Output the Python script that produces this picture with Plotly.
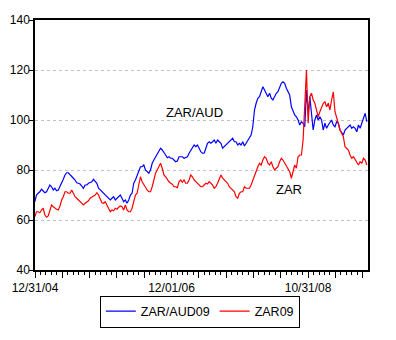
import pandas as pd
import plotly.graph_objects as go

zar_aud09 = [
    67.3, 70.0, 70.7, 71.3, 72.3, 71.7, 70.9, 71.3, 72.7, 74.0, 73.3, 72.0, 72.7,
    71.7, 72.0, 73.3, 74.7, 76.3, 78.0, 78.9, 78.9, 78.0, 77.3, 76.7, 76.0, 74.9,
    74.7, 74.4, 73.6, 72.7, 74.0, 74.0, 74.7, 74.9, 75.3, 76.3, 75.3, 74.7, 72.7,
    72.0, 71.3, 70.9, 70.0, 69.3, 68.7, 68.0, 68.7, 69.3, 68.0, 68.7, 69.3, 70.0,
    68.7, 67.3, 68.0, 66.7, 68.0, 70.0, 70.7, 74.7, 76.0, 78.0, 79.3, 81.3, 81.3,
    82.0, 80.0, 79.3, 78.7, 80.0, 82.7, 84.0, 85.3, 86.0, 87.3, 88.7, 88.0, 86.7,
    86.0, 84.9, 85.3, 84.7, 84.7, 84.0, 83.3, 83.6, 85.3, 85.3, 85.3, 84.7, 84.9,
    85.3, 86.7, 88.0, 88.7, 90.0, 89.3, 90.0, 88.7, 87.3, 86.7, 86.7,
    88.7, 90.7, 91.3, 90.7, 91.3, 92.0, 90.7, 92.0, 91.3, 90.7, 88.7, 89.3, 90.0,
    90.7, 91.3, 92.0, 92.7, 91.3, 91.3, 90.0, 90.7, 90.0, 91.3, 89.6, 90.7, 92.0,
    92.7, 94.0, 97.3, 104.0, 106.7, 108.7, 109.3, 111.3, 113.3, 112.0, 110.7, 109.3,
    110.7, 108.7, 108.0, 109.3, 110.7, 111.3, 112.7, 114.7, 115.3, 114.7, 112.7, 111.3,
    110.0, 105.3, 103.3, 102.0, 101.3, 100.0, 98.0, 99.3, 98.7, 97.3, 112.0, 102.7,
    109.3, 101.3, 96.0, 100.0, 102.0, 100.0, 101.3, 100.0, 96.0, 98.7, 96.7, 98.0,
    99.3, 100.0, 98.0, 97.3, 99.3, 98.7, 96.0, 94.7, 94.0, 96.0, 96.7, 97.3, 98.0,
    96.7, 97.3, 96.7, 95.3, 98.0, 96.7, 98.7, 100.7, 102.7, 99.3,
]

# ZAR09 index, same sampling
zar09 = [
    61.3, 63.3, 63.3, 62.9, 64.0, 64.7, 62.0, 61.1, 61.6, 64.0, 66.0, 65.3, 64.7,
    64.3, 64.0, 65.6, 68.0, 69.3, 71.3, 71.3, 70.7, 70.7, 72.0, 70.7, 69.3, 68.7,
    68.0, 67.7, 66.9, 66.0, 66.7, 67.3, 67.7, 68.7, 69.3, 69.6, 70.0, 70.9, 70.0,
    68.0, 66.9, 66.7, 67.3, 66.0, 64.7, 63.3, 64.0, 63.7, 64.7, 64.3, 65.1, 65.6,
    65.3, 64.0, 66.0, 64.0, 63.3, 63.3, 64.7, 67.3, 70.0, 70.7, 74.0, 77.3, 75.3,
    74.0, 72.7, 72.0, 71.3, 71.3, 73.3, 76.0, 78.7, 80.0, 81.3, 82.7, 80.7, 78.0,
    77.3, 76.0, 75.3, 74.7, 74.3, 73.3, 73.3, 72.9, 75.3, 76.0, 75.1, 76.0, 74.7,
    74.7, 76.0, 78.0, 77.3, 76.0, 75.3, 74.7, 74.3, 73.3, 73.3, 74.0,
    74.7, 74.4, 75.3, 74.7, 74.0, 72.7, 73.3, 74.7, 76.7, 78.0, 76.7, 76.0, 75.3,
    74.7, 73.3, 72.7, 72.0, 71.3, 69.3, 68.7, 70.7, 71.3, 71.3, 73.3, 72.7, 72.7,
    72.7, 74.0, 76.0, 78.0, 79.3, 81.3, 82.7, 82.0, 84.0, 85.3, 84.7, 82.7, 82.0,
    83.3, 81.3, 80.0, 80.7, 81.3, 83.3, 84.7, 84.0, 82.7, 81.3, 80.0,
    79.3, 76.7, 79.3, 82.0, 80.7, 85.3, 86.0, 86.0, 92.0, 105.3, 120.0, 98.7,
    109.3, 110.7, 108.0, 106.7, 104.0, 101.3, 103.3, 105.3, 106.7, 107.3, 105.3, 106.7,
    104.0, 108.0, 111.3, 103.3, 101.3, 98.7, 96.0, 94.7, 93.3, 89.3, 88.7, 88.0,
    86.0, 84.7, 85.3, 84.0, 83.3, 82.0, 83.3, 82.7, 84.7, 84.0, 82.0,
]

first_date = "2004-12-30"
last_date = "2009-08-28"
dates = pd.date_range(first_date, last_date, periods=len(zar09))

tick_dates = pd.date_range("2004-12-31", periods=13, freq="140D")
tick_labels = ["12/31/04", "", "", "", "", "12/01/06", "", "", "", "", "10/31/08", "", ""]

FONT = "Liberation Sans, Arial, sans-serif"

fig = go.Figure()
fig.add_trace(go.Scatter(x=dates, y=zar_aud09, mode="lines", name="ZAR/AUD09",
                         line=dict(color="#0000FF", width=1.2)))
fig.add_trace(go.Scatter(x=dates, y=zar09, mode="lines", name="ZAR09",
                         line=dict(color="#FF0000", width=1.2)))

fig.add_annotation(x="2007-03-31", y=103, text="ZAR/AUD", showarrow=False,
                   font=dict(family=FONT, size=13, color="black"))
fig.add_annotation(x="2008-07-25", y=72.2, text="ZAR", showarrow=False,
                   font=dict(family=FONT, size=13, color="black"))

# the page body adds an 8px offset, so the figure is sized 8px smaller
fig.update_layout(
    template="none",
    width=388, height=332,
    margin=dict(l=27, r=28, t=12, b=70, autoexpand=False),
    paper_bgcolor="white", plot_bgcolor="white",
    font=dict(family=FONT, size=12, color="black"),
    showlegend=True,
    legend=dict(orientation="h", x=0.495, xanchor="center", y=-0.102, yanchor="top",
                bordercolor="black", borderwidth=1, bgcolor="white",
                font=dict(family=FONT, size=12.5, color="black"),
                itemwidth=30, tracegroupgap=0),
    xaxis=dict(
        automargin=False,
        range=["2004-12-31", "2009-09-03"],
        tickmode="array", tickvals=tick_dates, ticktext=tick_labels,
        ticks="outside", ticklen=6, tickcolor="black", tickwidth=1,
        showline=True, linecolor="black", linewidth=1.5, mirror=True,
        showgrid=False, zeroline=False,
        minor=dict(dtick=28 * 86400000, tick0="2004-12-31", ticks="outside",
                   ticklen=3, tickcolor="black", tickwidth=1, showgrid=False),
        tickfont=dict(family=FONT, size=12, color="black"),
    ),
    yaxis=dict(
        automargin=False,
        range=[40, 140], tickmode="array", tickvals=[40, 60, 80, 100, 120, 140],
        ticks="outside", ticklen=4, tickcolor="black", tickwidth=1,
        ticklabelstandoff=-3,
        showline=True, linecolor="black", linewidth=1.5, mirror=True,
        showgrid=True, gridcolor="#c0c0c0", griddash="dot", gridwidth=1,
        zeroline=False,
        tickfont=dict(family=FONT, size=12, color="black"),
    ),
)

fig.write_html("out.html")
